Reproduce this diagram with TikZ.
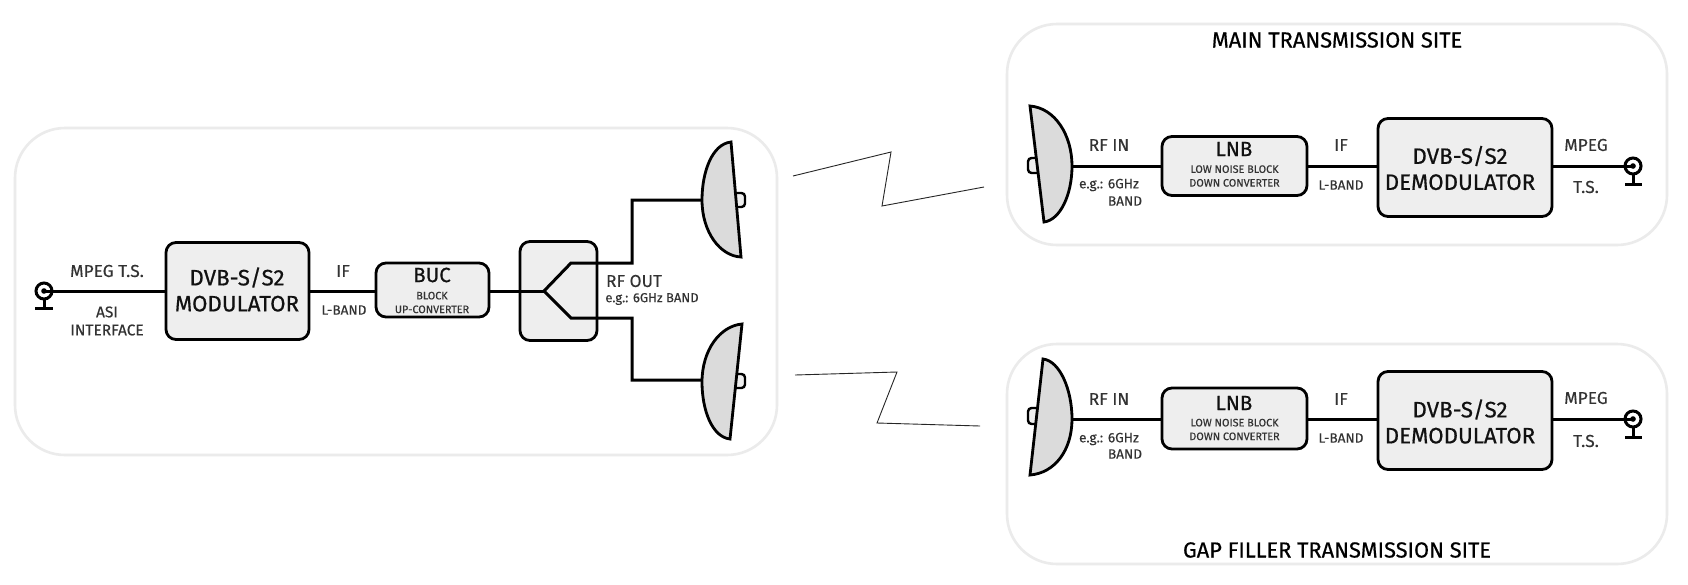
\documentclass[tikz,border=0pt]{standalone}
\usepackage{fontspec}
\setmainfont{Fira Sans}
\newfontfamily\fbig[FakeBold=0.6]{Fira Sans}
\newfontfamily\fmid[FakeBold=0.3]{Fira Sans}
\definecolor{tx}{HTML}{111111}
\definecolor{lb}{HTML}{333333}
\tikzset{
  x=1pt,y=-1pt,
  panel/.style={draw=black!8,line width=2.6pt,rounded corners=50pt},
  blk/.style={draw=black,line width=2.8pt,fill=black!6.5,rounded corners=10pt},
  wire/.style={draw=black,line width=3pt,line join=miter},
  thin link/.style={draw=black!85,line width=0.9pt},
  dish/.style={draw=black,line width=2.8pt,fill=black!14,line join=miter},
  bump/.style={draw=black,line width=2.4pt,fill=black!6.5,rounded corners=3.5pt},
  big/.style={font=\fbig\fontsize{22.3}{26}\selectfont,text=tx,align=center,inner sep=0},
  abbr/.style={font=\fbig\fontsize{20.5}{23}\selectfont,text=tx,align=center,inner sep=0},
  mid/.style={font=\fmid\fontsize{17.3}{20}\selectfont,text=lb,align=center,inner sep=0},
  sml/.style={font=\fmid\fontsize{15.5}{18}\selectfont,text=lb,align=center,inner sep=0},
  lil/.style={font=\fmid\fontsize{13.6}{16}\selectfont,text=lb,align=center,inner sep=0},
  tiny/.style={font=\fmid\fontsize{10.8}{13.7}\selectfont,text=lb,align=center,inner sep=0},
  head/.style={font=\fbig\fontsize{21.8}{24}\selectfont,text=black,inner sep=0},
  boxref/.style={inner sep=0,outer sep=0},
}
\begin{document}
\begin{tikzpicture}
\useasboundingbox (0,0) rectangle (1688,584);
\fill[white] (0,0) rectangle (1688,584);
% panels
\draw[panel] (15,128) rectangle (777,455);
\draw[panel] (1007,24) rectangle (1667,245);
\draw[panel] (1007,344) rectangle (1667,564);
% zig-zag links
\coordinate (za) at (793,176); \coordinate (zb) at (891,152); \coordinate (zc) at (882,206); \coordinate (zd) at (984,187);
\draw[thin link] (za) -- (zb) -- (zc) -- (zd);
\coordinate (ya) at (795,375); \coordinate (yb) at (897,372); \coordinate (yc) at (877,423); \coordinate (yd) at (980,426);
\draw[thin link] (ya) -- (yb) -- (yc) -- (yd);
% left chain
\coordinate (c1) at (44,291);
\coordinate (d1) at (702,200);
\coordinate (d2) at (702,380);
\coordinate (sp) at (544,291);
\node[boxref,minimum width=143pt,minimum height=97pt] (mod) at (237.5,291) {};
\node[boxref,minimum width=113pt,minimum height=54pt] (buc) at (432.5,290) {};
\node[boxref,minimum width=77pt,minimum height=99pt] (spl) at (558.5,291) {};
\draw[blk] (mod.north west) rectangle (mod.south east);
\draw[blk] (buc.north west) rectangle (buc.south east);
\draw[blk] (spl.north west) rectangle (spl.south east);
\draw[wire,fill=white] (c1) circle (8);
\draw[wire] (c1) -- (mod.west);
\draw[wire] (mod.east) -- (buc.west |- mod.east);
\draw[wire] (buc.east |- mod.east) -- (sp);
\draw[wire] (d1) -- (632,200) -- (632,263) -- (571,263) -- (sp) -- (571,318) -- (632,318) -- (632,380) -- (d2);
% left coax
\fill (c1) circle (2.8);
\draw[wire] (44,299) -- (44,308);
\draw[wire] (35,308) -- (53,308);
% left dishes
\draw[bump] (734,193) -- (745,193) -- (745,207) -- (736,207);
\draw[dish] (731,142) .. controls (712,144) and (702,172) .. (702,200) .. controls (702,232) and (720,256) .. (741,257) -- cycle;
\draw[bump] (734,374) -- (745,374) -- (745,388) -- (736,388);
\draw[dish] (742,324) .. controls (720,326) and (702,350) .. (702,382) .. controls (702,410) and (712,437) .. (730,439) -- cycle;
% labels left
\node[mid] (t1) at (107,271) {MPEG T.S.};
\node[sml] (t2) at (107,321) {ASI\\INTERFACE};
\node[big] (t3) at (237,289.5) {DVB-S/S2\\MODULATOR};
\node[mid] (t4) at (343,271) {IF};
\node[lil] (t5) at (344,310) {L-BAND};
\node[abbr] (t6) at (432,275) {BUC};
\node[tiny] (t7) at (432,302.5) {BLOCK\\UP-CONVERTER};
\node[mid] (t8) at (634,281) {RF OUT};
\node[font=\fmid\fontsize{13}{16}\selectfont,text=lb,inner sep=0] (t9) at (652,299) {e.g.: 6GHz BAND};
% main site
\node[head] (m0) at (1337,40) {MAIN TRANSMISSION SITE};
\coordinate (d3) at (1072,166);
\node[boxref,minimum width=174pt,minimum height=98pt] (dem1) at (1465,167.5) {};
\node[boxref,minimum width=145pt,minimum height=59pt] (lnb1) at (1234.5,166) {};
\coordinate (c2) at (1633,166);
\draw[blk] (lnb1.north west) rectangle (lnb1.south east);
\draw[blk] (dem1.north west) rectangle (dem1.south east);
\draw[wire] (d3) -- (lnb1.west);
\draw[wire] (lnb1.east) -- (dem1.west |- lnb1.east);
\draw[wire,fill=white] (c2) circle (8);
\draw[wire] (dem1.east |- c2) -- (c2);
\fill (c2) circle (2.8);
\draw[wire] (1633,174) -- (1633,184);
\draw[wire] (1625,184) -- (1642,184);
\draw[bump] (1037,158) -- (1028,158) -- (1028,173) -- (1039,173);
\draw[dish] (1030,106) .. controls (1055,108) and (1072,135) .. (1072,166) .. controls (1072,195) and (1060,220) .. (1044,222) -- cycle;
\node[mid] (m1) at (1109,145) {RF IN};
\node[lil] (m2) at (1109,185) {e.g.: 6GHz};
\node[lil] (m3) at (1125,201) {BAND};
\node[abbr] (m4) at (1234,149) {LNB};
\node[tiny] (m5) at (1234.5,176) {LOW NOISE BLOCK\\DOWN CONVERTER};
\node[mid] (m6) at (1341,145) {IF};
\node[lil] (m7) at (1341,185) {L-BAND};
\node[big] (m8) at (1460,168) {DVB-S/S2\\DEMODULATOR};
\node[mid] (m9) at (1586,145) {MPEG};
\node[mid] (m10) at (1586,187) {T.S.};
% gap filler site
\node[head] (g0) at (1337,550) {GAP FILLER TRANSMISSION SITE};
\coordinate (d4) at (1072,419);
\node[boxref,minimum width=145pt,minimum height=61pt] (lnb2) at (1234.5,418.5) {};
\node[boxref,minimum width=174pt,minimum height=98pt] (dem2) at (1465,420.5) {};
\coordinate (c3) at (1633,419);
\draw[blk] (lnb2.north west) rectangle (lnb2.south east);
\draw[blk] (dem2.north west) rectangle (dem2.south east);
\draw[wire] (d4) -- (lnb2.west |- d4);
\draw[wire] (lnb2.east |- d4) -- (dem2.west |- d4);
\draw[wire,fill=white] (c3) circle (8);
\draw[wire] (dem2.east |- c3) -- (c3);
\fill (c3) circle (2.8);
\draw[wire] (1633,427) -- (1633,437);
\draw[wire] (1625,437) -- (1642,437);
\draw[bump] (1037,408) -- (1028,408) -- (1028,424) -- (1039,424);
\draw[dish] (1043,359) .. controls (1060,361) and (1072,390) .. (1072,419) .. controls (1072,450) and (1055,473) .. (1030,475) -- cycle;
\node[mid] (g1) at (1109,399) {RF IN};
\node[lil] (g2) at (1109,439) {e.g.: 6GHz};
\node[lil] (g3) at (1125,454) {BAND};
\node[abbr] (g4) at (1234,403) {LNB};
\node[tiny] (g5) at (1234.5,429.5) {LOW NOISE BLOCK\\DOWN CONVERTER};
\node[mid] (g6) at (1341,399) {IF};
\node[lil] (g7) at (1341,438) {L-BAND};
\node[big] (g8) at (1460,421.5) {DVB-S/S2\\DEMODULATOR};
\node[mid] (g9) at (1586,398) {MPEG};
\node[mid] (g10) at (1586,441) {T.S.};
\end{tikzpicture}
\end{document}
